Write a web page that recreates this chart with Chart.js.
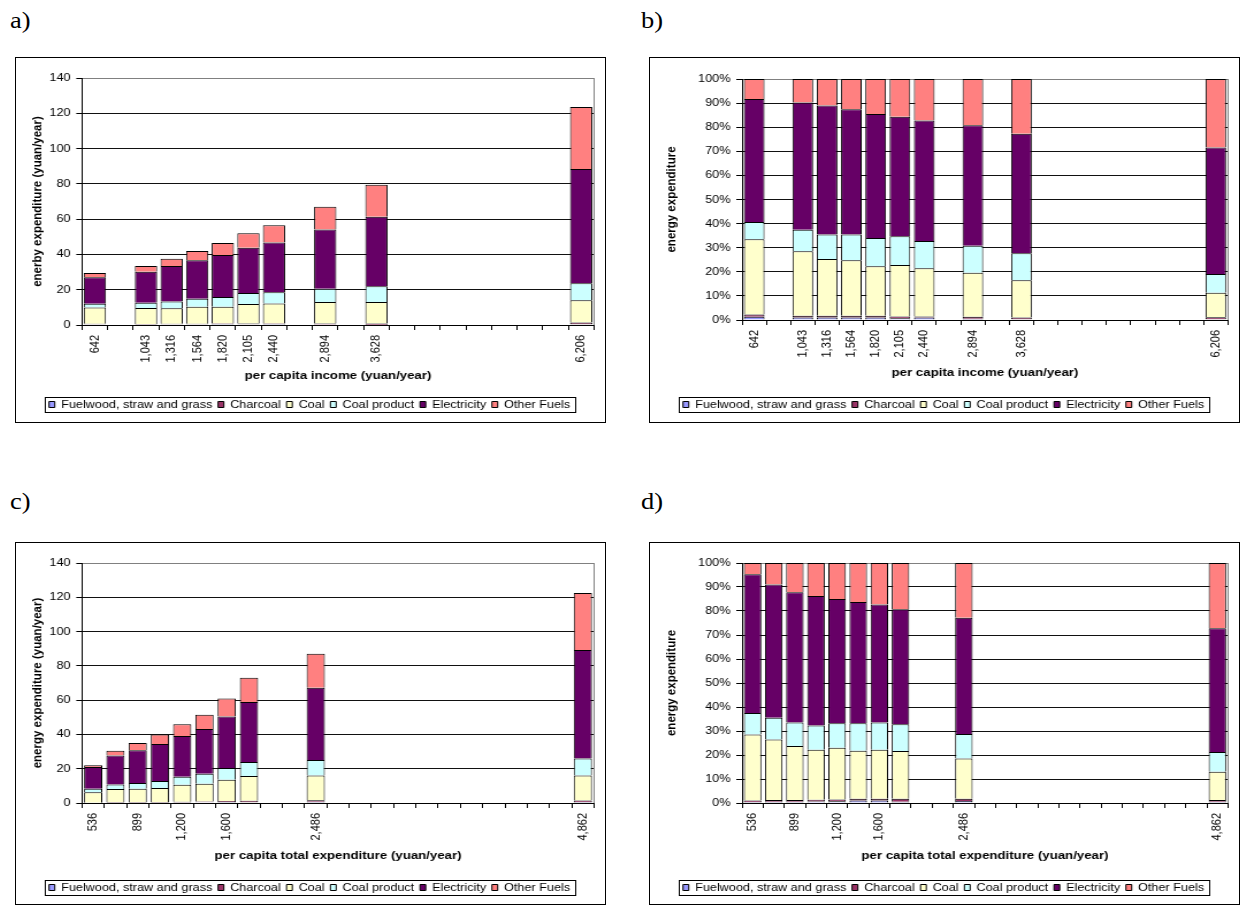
<!DOCTYPE html>
<html>
<head>
<meta charset="utf-8">
<title>Energy expenditure by income and expenditure group</title>
<script src="https://cdn.jsdelivr.net/npm/chart.js@4.4.1/dist/chart.umd.min.js"></script>
<style>
    body { margin: 0; background: #fff; width: 1242px; height: 907px; position: relative; overflow: hidden; }
    .tag { position: absolute; font-family: "Liberation Serif", "Times New Roman", serif; font-size: 23px; line-height: 23px;
           transform: scaleX(1.15); transform-origin: 0 0; color: #000; }
    .box { position: absolute; width: 591px; border: 1px solid #000; box-sizing: border-box; background: #fff; }
    .inner { position: absolute; left: 0; top: 0; width: 512px; transform: scaleX(1.1504); transform-origin: 0 0; }
</style>
</head>
<body>

<div class="tag" style="left:10px;top:9px">a)</div>
<div class="tag" style="left:641px;top:9px">b)</div>
<div class="tag" style="left:10px;top:490px">c)</div>
<div class="tag" style="left:641px;top:490px">d)</div>

<div class="box" style="left:15px;top:57px;height:366px"><div class="inner" style="height:364px"><canvas id="chartA"></canvas></div></div>
<div class="box" style="left:649px;top:57px;height:366px"><div class="inner" style="height:364px"><canvas id="chartB"></canvas></div></div>
<div class="box" style="left:15px;top:542px;height:363px"><div class="inner" style="height:361px"><canvas id="chartC"></canvas></div></div>
<div class="box" style="left:649px;top:542px;height:363px"><div class="inner" style="height:361px"><canvas id="chartD"></canvas></div></div>

<script>
(function () {
    'use strict';

    var fuelLabels = ['Fuelwood, straw and grass', 'Charcoal', 'Coal', 'Coal product', 'Electricity', 'Other Fuels'];
    var fuelColors = ['#9999FF', '#993366', '#FFFFCC', '#CCFFFF', '#660066', '#FF8080'];

    // ── Income groups (a, b): 20 slots on the axis, bars in 10 of them ────────
    var incomeSlotCount = 20;
    var incomeSlots = [0, 2, 3, 4, 5, 6, 7, 9, 11, 19];
    var incomeTicks = ['642', '1,043', '1,316', '1,564', '1,820', '2,105', '2,440', '2,894', '3,628', '6,206'];

    // a) yuan/year
    var incFuelwood    = [0.4, 0.3, 0.4, 0.4, 0.5, 0.4, 0.6, 0.3, 0.2, 0.4];
    var incCharcoal    = [0.3, 0.3, 0.3, 0.3, 0.4, 0.4, 0.3, 0.5, 0.6, 1.0];
    var incCoal        = [9.2, 9.0, 8.8, 9.7, 9.5, 11.1, 11.3, 12.3, 12.3, 12.6];
    var incCoalProduct = [2.1, 3.0, 3.8, 4.5, 5.4, 6.2, 6.4, 7.5, 8.9, 9.6];
    var incElectricity = [15.0, 17.6, 20.1, 21.8, 23.9, 25.7, 28.2, 33.5, 39.4, 64.8];
    var incOther       = [2.5, 3.3, 4.1, 5.3, 6.8, 8.2, 9.7, 12.9, 18.1, 35.1];

    // b) share of total, %
    var incShareFuelwood    = [1.3, 1.0, 1.0, 1.0, 1.0, 0.7, 1.0, 0.5, 0.3, 0.3];
    var incShareCharcoal    = [1.0, 0.8, 0.8, 0.8, 0.8, 0.8, 0.5, 0.8, 0.7, 0.8];
    var incShareCoal        = [31.2, 26.7, 23.5, 23.0, 20.5, 21.3, 20.0, 18.3, 15.5, 10.2];
    var incShareCoalProduct = [7.2, 9.0, 10.2, 10.7, 11.7, 12.0, 11.3, 11.2, 11.2, 7.8];
    var incShareElectricity = [51.0, 52.7, 53.5, 52.0, 51.5, 49.5, 50.0, 50.0, 49.6, 52.5];
    var incShareOther       = [8.3, 9.8, 11.0, 12.5, 14.5, 15.7, 17.2, 19.2, 22.7, 28.4];

    // ── Expenditure groups (c, d): 23 slots, labels on every other slot ───────
    var expSlotCount = 23;
    var expSlots = [0, 1, 2, 3, 4, 5, 6, 7, 10, 22];
    var expTicks = ['536', '', '899', '', '1,200', '', '1,600', '', '2,486', '4,862'];

    // c) yuan/year
    var expFuelwood    = [0.1, 0.2, 0.2, 0.2, 0.3, 0.5, 0.6, 0.4, 0.7, 0.6];
    var expCharcoal    = [0.1, 0.2, 0.2, 0.3, 0.4, 0.4, 0.5, 0.9, 0.9, 0.9];
    var expCoal        = [6.1, 7.7, 7.9, 8.3, 9.9, 10.3, 12.4, 14.5, 14.5, 14.5];
    var expCoalProduct = [2.0, 2.7, 3.4, 4.0, 4.7, 5.9, 6.9, 8.1, 9.0, 10.0];
    var expElectricity = [12.7, 16.9, 19.0, 21.6, 23.8, 26.1, 30.0, 35.0, 42.1, 63.2];
    var expOther       = [1.0, 2.8, 4.3, 5.6, 6.9, 8.3, 10.6, 14.1, 19.8, 33.3];

    // d) share of total, %
    var expShareFuelwood    = [0.4, 0.5, 0.5, 0.6, 0.7, 1.0, 1.0, 0.5, 0.8, 0.5];
    var expShareCharcoal    = [0.6, 0.7, 0.7, 0.8, 0.8, 0.8, 0.8, 1.3, 1.0, 0.7];
    var expShareCoal        = [27.5, 25.3, 22.5, 20.8, 21.5, 20.0, 20.4, 19.9, 16.7, 11.8];
    var expShareCoalProduct = [9.0, 9.0, 9.8, 10.1, 10.2, 11.4, 11.3, 11.1, 10.3, 8.2];
    var expShareElectricity = [57.8, 55.5, 54.3, 53.9, 51.8, 50.6, 49.2, 47.9, 48.4, 51.6];
    var expShareOther       = [4.7, 9.0, 12.2, 13.8, 15.0, 16.2, 17.3, 19.3, 22.8, 27.2];

    Chart.defaults.font.family = "'Liberation Sans', Arial, sans-serif";
    Chart.defaults.color = '#000';

    // put the values of the occupied slots into a full-length category array
    function spread(values, slots, count, fill) {
        var out = new Array(count).fill(fill);
        slots.forEach(function (s, i) { out[s] = values[i]; });
        return out;
    }

    // gray right edge of the plot area, like the Excel plot frame
    var plotFrame = {
        id: 'plotFrame',
        beforeDatasetsDraw: function (chart) {
            var a = chart.chartArea, ctx = chart.ctx;
            var x = Math.round(a.right) + 0.5;
            ctx.save();
            ctx.strokeStyle = '#808080';
            ctx.lineWidth = 1;
            ctx.beginPath();
            ctx.moveTo(x, a.top);
            ctx.lineTo(x, a.bottom);
            ctx.stroke();
            ctx.restore();
        }
    };

    // box around the legend
    var legendFrame = {
        id: 'legendFrame',
        afterDraw: function (chart) {
            var boxes = chart.legend && chart.legend.legendHitBoxes;
            if (!boxes || !boxes.length) return;
            var first = boxes[0], last = boxes[boxes.length - 1];
            var x0 = Math.round(first.left - 4) + 0.5;
            var x1 = Math.round(last.left + last.width + 4) + 0.5;
            var y0 = Math.round(first.top - 2) + 0.5;
            var y1 = Math.round(first.top + first.height + 2) + 0.5;
            var ctx = chart.ctx;
            ctx.save();
            ctx.strokeStyle = '#000';
            ctx.lineWidth = 1;
            ctx.strokeRect(x0, y0, x1 - x0, y1 - y0);
            ctx.restore();
        }
    };

    function buildChart(p) {
        var datasets = fuelLabels.map(function (name, i) {
            return {
                label: name,
                data: spread(p.series[i], p.slots, p.count, null),
                backgroundColor: fuelColors[i],
                borderColor: '#000',
                borderWidth: 1,
                borderSkipped: 'start',   // one line between stacked segments
                barPercentage: p.bar,
                categoryPercentage: 1
            };
        });

        new Chart(document.getElementById(p.id), {
            type: 'bar',
            data: { labels: spread(p.ticks, p.slots, p.count, ''), datasets: datasets },
            options: {
                responsive: true,
                maintainAspectRatio: false,
                animation: false,
                layout: { padding: { left: 8, right: 9.6, top: p.top, bottom: p.bottom } },
                plugins: {
                    legend: {
                        position: 'bottom',
                        labels: { boxWidth: 5, boxHeight: 6, padding: 5, color: '#000', font: { size: 11 } }
                    },
                    tooltip: { enabled: false }
                },
                scales: {
                    x: {
                        stacked: true,
                        border: { color: '#000', width: 1 },
                        grid: { display: true, drawOnChartArea: false, offset: true, tickLength: 5, color: '#000', tickColor: '#000' },
                        ticks: { autoSkip: false, minRotation: 90, maxRotation: 90, padding: 5, color: '#000', font: { size: 11 } },
                        title: { display: true, text: p.xTitle, color: '#000', padding: { top: 4, bottom: p.xTitlePad },
                                 font: { size: 11.5, weight: 'bold' } },
                        afterFit: function (s) { s.height = p.xHeight; }
                    },
                    y: {
                        stacked: true,
                        min: 0,
                        max: p.yMax,
                        border: { color: '#000', width: 1 },
                        grid: {
                            color: function (c) { return c.tick && c.tick.value === p.yMax ? '#808080' : '#111'; },
                            tickColor: '#000',
                            tickLength: 5
                        },
                        ticks: {
                            stepSize: p.yStep,
                            padding: 5,
                            color: '#000',
                            font: { size: 11 },
                            callback: function (v) { return p.pct ? v + '%' : v; }
                        },
                        title: { display: true, text: p.yTitle, color: '#000', padding: { top: 4, bottom: 0 },
                                 font: { size: 11.5, weight: 'bold' } },
                        afterFit: function (s) { s.width = p.yWidth; }
                    }
                }
            },
            plugins: [plotFrame, legendFrame]
        });
    }

    buildChart({
        id: 'chartA', slots: incomeSlots, count: incomeSlotCount, ticks: incomeTicks,
        series: [incFuelwood, incCharcoal, incCoal, incCoalProduct, incElectricity, incOther],
        yMax: 140, yStep: 20, pct: false,
        yTitle: 'enerby expenditure (yuan/year)', xTitle: 'per capita income (yuan/year)',
        top: 20, bottom: 2, yWidth: 49.4, xHeight: 69, xTitlePad: 11, bar: 0.87
    });

    buildChart({
        id: 'chartB', slots: incomeSlots, count: incomeSlotCount, ticks: incomeTicks,
        series: [incShareFuelwood, incShareCharcoal, incShareCoal, incShareCoalProduct, incShareElectricity, incShareOther],
        yMax: 100, yStep: 10, pct: true,
        yTitle: 'energy expenditure', xTitle: 'per capita income (yuan/year)',
        top: 21, bottom: 2, yWidth: 72, xHeight: 74, xTitlePad: 14, bar: 0.85
    });

    buildChart({
        id: 'chartC', slots: expSlots, count: expSlotCount, ticks: expTicks,
        series: [expFuelwood, expCharcoal, expCoal, expCoalProduct, expElectricity, expOther],
        yMax: 140, yStep: 20, pct: false,
        yTitle: 'energy expenditure (yuan/year)', xTitle: 'per capita total expenditure (yuan/year)',
        top: 20, bottom: 1, yWidth: 49.4, xHeight: 74, xTitlePad: 14, bar: 0.82
    });

    buildChart({
        id: 'chartD', slots: expSlots, count: expSlotCount, ticks: expTicks,
        series: [expShareFuelwood, expShareCharcoal, expShareCoal, expShareCoalProduct, expShareElectricity, expShareOther],
        yMax: 100, yStep: 10, pct: true,
        yTitle: 'energy expenditure', xTitle: 'per capita total expenditure (yuan/year)',
        top: 20, bottom: 1, yWidth: 72, xHeight: 74, xTitlePad: 14, bar: 0.83
    });

})();
</script>
</body>
</html>
